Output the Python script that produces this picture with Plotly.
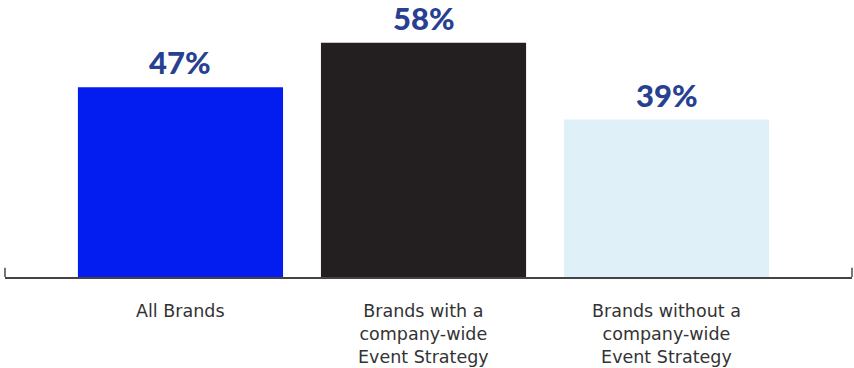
import plotly.graph_objects as go

categories = ["All Brands", "Brands with a company-wide Event Strategy",
              "Brands without a company-wide Event Strategy"]
tick_labels = ["All Brands", "Brands with a<br>company-wide<br>Event Strategy",
               "Brands without a<br>company-wide<br>Event Strategy"]
values = [47, 58, 39]
value_labels = ["47%", "58%", "39%"]
bar_colors = ["#031cef", "#231f20", "#dff0f8"]

fig = go.Figure()
fig.add_trace(go.Bar(
    x=categories, y=values, width=0.844,
    marker=dict(color=bar_colors, line=dict(width=0)),
    hoverinfo="skip",
))

for c, v, t in zip(categories, values, value_labels):
    fig.add_annotation(x=c, y=v, text=t, showarrow=False, xref="x", yref="y",
                       yanchor="bottom", yshift=4,
                       font=dict(family="Lato", size=31, color="#27408f", weight=900))

for c, t in zip(categories, tick_labels):
    fig.add_annotation(x=c, y=0, text=t, showarrow=False, xref="x", yref="paper",
                       yanchor="top", yshift=-22,
                       font=dict(family="DejaVu Sans", size=17.5, color="#333333"))

# end ticks of the baseline
for xp in [0, 1]:
    fig.add_shape(type="line", xref="paper", yref="paper", x0=xp, x1=xp,
                  y0=0, y1=0.033, line=dict(color="#777777", width=2))

fig.update_layout(
    width=854, height=368,
    margin=dict(l=5, r=2, t=0, b=91),
    plot_bgcolor="white", paper_bgcolor="white",
    showlegend=False,
    xaxis=dict(range=[-0.722, 2.763], showticklabels=False, ticks="",
               showgrid=False, zeroline=False, showline=True,
               linecolor="#444444", linewidth=2, fixedrange=True),
    yaxis=dict(range=[0, 68.6], visible=False, showgrid=False, zeroline=False),
)

fig.write_html("out.html")
